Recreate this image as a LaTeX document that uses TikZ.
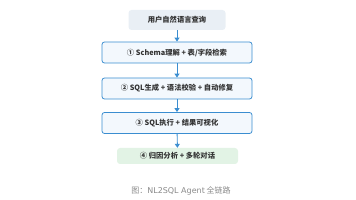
\documentclass[tikz,border=0pt]{standalone}
\usepackage{fontspec}
\setmainfont{Noto Sans CJK SC}
\newfontfamily\latinfont{DejaVu Sans}
\usetikzlibrary{arrows.meta}
\definecolor{bluefill}{HTML}{F3F8FD}
\definecolor{blueline}{HTML}{3A8DD0}
\definecolor{topfill}{HTML}{E9EFF5}
\definecolor{greenfill}{HTML}{E2F3E5}
\definecolor{captiongray}{HTML}{8A8A8A}
\definecolor{txt}{HTML}{333333}
\tikzset{
  boxfont/.style={font=\fontsize{7.3}{8}\selectfont\bfseries, text=txt},
  stepbox/.style={draw=blueline, line width=0.8pt, fill=bluefill, rounded corners=2.5pt, minimum width=150pt, minimum height=21pt, boxfont},
  topbox/.style={fill=topfill, rounded corners=3pt, minimum width=97pt, minimum height=20pt, boxfont},
  endbox/.style={fill=greenfill, rounded corners=3pt, minimum width=121pt, minimum height=16pt, boxfont},
  flow/.style={draw=blueline, line width=0.9pt, -{Triangle[length=4pt,width=5pt]}}
}
\begin{document}
\begin{tikzpicture}[x=1pt,y=-1pt]
\useasboundingbox (0,0) rectangle (356,200);
\node[topbox] (q) at (177,20) {用户自然语言查询};
\node[stepbox] (s1) at (177,52.5) {① Schema理解 + 表/字段检索};
\node[stepbox] (s2) at (177,88.5) {② SQL生成 + 语法校验 + 自动修复};
\node[stepbox] (s3) at (177,123) {③ SQL执行 + 结果可视化};
\node[endbox] (s4) at (177.5,156) {④ 归因分析 + 多轮对话};
\node[font=\fontsize{8}{9}\selectfont, text=captiongray] (cap) at (181,191) {图：{\latinfont NL2SQL Agent} 全链路};
\draw[flow] (q) -- (s1);
\draw[flow] (s1) -- (s2);
\draw[flow] (s2) -- (s3);
\draw[flow] (s3) -- (s4);
\end{tikzpicture}
\end{document}
